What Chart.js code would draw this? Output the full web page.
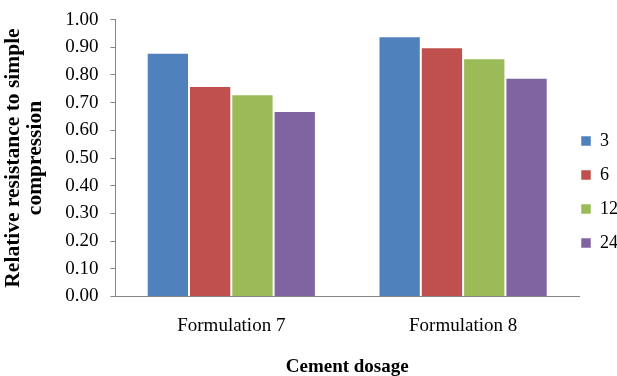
<!DOCTYPE html>
<html>
<head>
<meta charset="utf-8">
<script src="https://cdn.jsdelivr.net/npm/chart.js@4/dist/chart.umd.min.js"></script>
<style>
  html, body { margin: 0; padding: 0; background: #fff; }
  #wrap { width: 617px; height: 376px; }
</style>
</head>
<body>
<div id="wrap"><canvas id="barChart"></canvas></div>
<script>
const categories = ['Formulation 7', 'Formulation 8']
const seriesNames = ['3', '6', '12', '24']
const values3 = [0.88, 0.94]
const values6 = [0.76, 0.90]
const values12 = [0.73, 0.86]
const values24 = [0.67, 0.79]
const colors = ['#4F81BD', '#C0504D', '#9BBB59', '#8064A2']

const FONT = 'Liberation Serif, Times New Roman, serif'
const allValues = [values3, values6, values12, values24]

const datasets = seriesNames.map((name, i) => ({
  label: name,
  data: allValues[i],
  backgroundColor: colors[i],
  borderColor: 'rgba(255,255,255,0.5)',
  borderWidth: 1,
  barPercentage: 1,
  categoryPercentage: 0.73
}))

// legend is laid out narrow (so the plot reaches close to it), then spaced out like the Excel one
const legendSpacing = {
  id: 'legendSpacing',
  beforeDraw(chart) {
    const lg = chart.legend
    lg.options.labels.padding = 16
    lg.left -= 14
    lg.top = 116
  }
}

new Chart(document.getElementById('barChart'), {
  type: 'bar',
  data: { labels: categories, datasets: datasets },
  plugins: [legendSpacing],
  options: {
    responsive: true,
    maintainAspectRatio: false,
    animation: false,
    layout: { padding: { top: 7, right: -14, bottom: -2, left: 2 } },
    plugins: {
      tooltip: { enabled: false },
      legend: {
        position: 'right',
        align: 'start',
        labels: {
          boxWidth: 10,
          boxHeight: 10,
          padding: 5,
          color: '#000',
          font: { family: FONT, size: 18 }
        }
      }
    },
    scales: {
      x: {
        offset: true,
        // no visible category tick marks in the original
        grid: { display: true, drawOnChartArea: false, offset: true, color: 'rgba(0,0,0,0)', tickLength: 5 },
        border: { color: '#868686' },
        ticks: { color: '#000', font: { family: FONT, size: 19 }, padding: 13 },
        title: { display: true, text: 'Cement dosage', color: '#000', font: { family: FONT, size: 19, weight: 'bold' }, padding: { top: 5, bottom: 0 } }
      },
      y: {
        min: 0,
        max: 1,
        ticks: {
          stepSize: 0.1,
          color: '#000',
          font: { family: FONT, size: 19, lineHeight: 0.8 },
          padding: 12,
          callback: v => Number(v).toFixed(2)
        },
        grid: { display: true, drawOnChartArea: false, color: '#868686', tickLength: 5 },
        border: { color: '#868686' },
        title: {
          display: true,
          text: ['Relative resistance to simple', 'compression'],
          color: '#000',
          font: { family: FONT, size: 21.5, weight: 'bold', lineHeight: 1.05 },
          padding: { top: 0, bottom: 6 }
        }
      }
    }
  }
})
</script>
</body>
</html>
